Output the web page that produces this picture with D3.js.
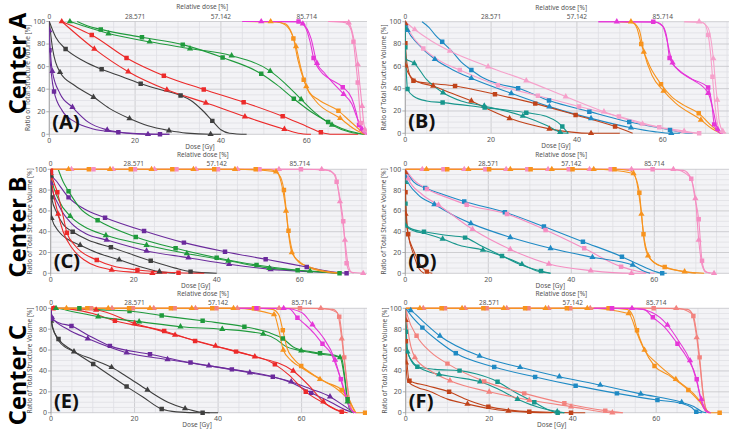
<!DOCTYPE html>
<html><head><meta charset="utf-8">
<script src="https://cdn.jsdelivr.net/npm/d3@7"></script>
<style>
html,body{margin:0;padding:0;background:#fff;}
svg{display:block;}
text{font-family:"Noto Sans","Open Sans",sans-serif;}
</style></head>
<body>
<svg id="chart" width="733" height="433"></svg>
<script>
// ---------- data (dose Gy, volume %, 1 = marker) ----------
const centers = ["Center A", "Center B", "Center C"];
const panelLabels = ["(A)", "(B)", "(C)", "(D)", "(E)", "(F)"];
const doseTicks = [0, 20, 40, 60];
const relTickLabels = ["0", "28.571", "57.142", "85.714"];
const volTicks = [0, 20, 40, 60, 80, 100];

const curvesA = [
 {k:"pur",s:"s",p:[[0,100],[0.05,74.5,1],[1.1,38,1],[3,21],[6,11],[10,5],[16.1,1.8,1],[22,0.4],[25.8,0,1],[28,0]]},
 {k:"pur",s:"t",p:[[0,100],[0.02,92,1],[0.7,56,1],[2.5,36],[5.4,24,1],[9,11],[13.5,3.9,1],[18,1],[23,0,1],[28,0]]},
 {k:"gry",s:"s",p:[[0,100],[1.5,86],[3.8,75.7,1],[8,65],[12.2,57.6,1],[17,51],[21.3,44.8,1],[26,39.5],[30.6,34.4,1],[33,30],[35.5,22],[38,11.9,1],[40,4],[42,1],[46,0]]},
 {k:"gry",s:"t",p:[[0,100],[0.8,75],[2.5,55,1],[6,43],[10.3,33,1],[14,23],[18.7,14,1],[23,7.5],[27.9,3.3,1],[32,1],[37.6,0,1],[40,0]]},
 {k:"red",s:"s",p:[[2.9,100],[6,95],[9.9,88,1],[18,67.7,1],[26.7,52,1],[36,39.8,1],[45.3,28.5,1],[54.4,16,1],[60,7],[63.3,1.8,1],[66,0],[72,0]]},
 {k:"red",s:"t",p:[[2.9,100,1],[10.5,75.7,1],[18.4,55.5,1],[27.4,39.5,1],[36.5,27.9,1],[45.6,15.7,1],[54.8,4.5,1],[58,1],[61,0]]},
 {k:"grn",s:"s",p:[[6.5,100],[9,96],[12,93,1],[21.6,86,1],[31.1,79.5,1],[40.4,68,1],[49.4,53.7,1],[53,44],[57,31.5,1],[61,20],[65,11,1],[69,4],[73.5,0]]},
 {k:"grn",s:"t",p:[[4.8,100,1],[8,96],[13.8,89.3,1],[23.4,82,1],[32.8,76,1],[42.5,69.7,1],[51.5,56,1],[55,45],[58.7,31,1],[62,19],[65.9,8.3,1],[70,2],[73.5,0]]},
 {k:"orn",s:"s",p:[[45.5,100],[53,99.5],[55,97],[56.9,85,1],[58,65],[59.3,48.4,1],[60.5,38],[63,30],[67.4,20.8,1],[70,12],[73.5,0]]},
 {k:"orn",s:"t",p:[[45.5,100],[51.6,100,1],[55,98],[57.5,78,1],[58.7,58],[59.9,42.4,1],[62,30],[67.8,14.2,1],[71,5],[73.5,0]]},
 {k:"mag",s:"s",p:[[45,100],[58.1,100,1],[59.5,96],[60.8,82],[61.6,67.7,1],[63,57],[65,50],[68.4,41.8,1],[70.5,32],[71.5,20],[72.2,8.3,1],[73,2],[74,0]]},
 {k:"mag",s:"t",p:[[45,100],[49.4,100,1],[58,99.5],[59.1,98,1],[61,85],[62.4,63,1],[64,55],[66,46],[68.6,35.6,1],[70.5,27],[71.7,15],[72.9,4.7,1],[74,0]]},
 {k:"pnk",s:"s",p:[[65,100],[69,99],[70.2,94],[70.9,82,1],[71.4,65],[71.9,46,1],[72.3,25],[72.6,10,1],[73.3,2],[74,0]]},
 {k:"pnk",s:"t",p:[[65,100],[69.5,100],[69.8,99,1],[70.8,88],[71.9,62,1],[72.5,40],[72.9,25,1],[73.3,10],[73.6,4,1],[74.5,0]]}
];
const curvesB = [
 {k:"blu",s:"s",p:[[3.9,100],[5.5,95],[7,88],[8.6,82,1],[11,73],[13,64],[15.4,56.7,1],[18,50],[22,44],[26.3,40.3,1],[33.5,29.3,1],[42.9,19.4,1],[52.2,10.1,1],[61.7,3,1],[64,1],[67,0]]},
 {k:"blu",s:"t",p:[[0,100],[0.02,97,1],[0.5,92.5,1],[3,80],[6.9,66.3,1],[11,57],[15.4,49.3,1],[24.7,35.8,1],[33.6,23.9,1],[43.3,13.4,1],[52.6,5,1],[58,1.5],[62,0,1],[64,0]]},
 {k:"lpk",s:"t",p:[[0,100],[2.2,93,1],[6,83],[10.4,73.7,1],[19.3,59.7,1],[28.2,47.2,1],[37.4,32.8,1],[46.3,19.4,1],[55.3,8.4,1],[65,2,1],[68,0]]},
 {k:"lpk",s:"s",p:[[0,100],[1.5,88],[4.2,76,1],[8,65],[12.7,56.7,1],[21.6,43,1],[30.9,33.7,1],[40.5,24,1],[49.8,15,1],[59.2,5.4,1],[64,1.5],[68.5,0,1]]},
 {k:"brn",s:"s",p:[[0,100],[0.02,80.6,1],[0.5,60],[1.9,47,1],[5,45],[11.6,42.4,1],[20.9,35,1],[30.3,26.6,1],[39.7,16.4,1],[48.9,6,1],[53,0]]},
 {k:"brn",s:"t",p:[[0,100],[0.02,98.5,1],[0.04,60.6,1],[1,52],[3,46],[6.5,42.4,1],[10,37],[15.4,29,1],[18,24],[24.3,13.4,1],[33.6,4,1],[43.3,0,1],[50,0]]},
 {k:"tea",s:"s",p:[[0,100],[0.02,77,1],[0.3,50],[0.5,39.7,1],[2,33],[5,29],[8.7,27.5,1],[18.5,23,1],[28.2,18.5,1],[33,15],[35.5,10],[36.6,6,1],[38,0]]},
 {k:"tea",s:"t",p:[[0,100],[0.02,94,1],[0.1,67],[2.1,62.7,1],[5,48],[8.8,36.4,1],[13,29],[18.4,24.5,1],[27.4,15.5,1],[33,7],[36.1,1,1],[38,0]]},
 {k:"orn",s:"s",p:[[50,100],[53,99],[54,94],[55,80,1],[57,60],[59.6,44,1],[62,33],[65,25],[68.4,18,1],[71,8],[73.5,0]]},
 {k:"orn",s:"t",p:[[50,100],[52.6,100,1],[54.5,93],[55.6,73,1],[57.5,52],[60.2,38,1],[63,27],[68.9,12,1],[71.5,4],[73.5,0]]},
 {k:"mag",s:"s",p:[[45,100],[57.8,100,1],[60,96],[61,85],[61.6,67.5,1],[63.5,57],[66,50],[70.6,41,1],[71.5,25],[72,8,1],[73,1],[74,0]]},
 {k:"mag",s:"t",p:[[45,100],[49.3,100,1],[58.5,99.5],[60,96],[62.3,63.3,1],[64,56],[67,48],[70.6,36,1],[71.8,20],[72.8,3.6,1],[74,0]]},
 {k:"lpk",s:"s",p:[[65,100],[69.5,99],[70.6,88,1],[71.2,70],[71.6,50.7,1],[72.2,25],[72.8,8],[73.5,1],[74.5,0]]},
 {k:"lpk",s:"t",p:[[65,100],[68.5,100,1],[70.5,95],[71.8,67,1],[72.3,45],[72.7,30,1],[73.2,10],[74,2,1],[74.8,0]]}
];
const curvesC = [
 {k:"pur",s:"s",p:[[0,100],[0.05,96,1],[1.5,88],[4.3,73,1],[8,62],[13.1,53.5,1],[22.5,40.7,1],[32.1,29.5,1],[42,20.8,1],[51.8,13.5,1],[61.7,6,1],[67,2],[71.3,0,1]]},
 {k:"pur",s:"t",p:[[0,100],[0.05,86.5,1],[2,65],[5,48],[8.5,38],[13.5,32,1],[23.1,21.5,1],[33.2,15,1],[43,8.7,1],[53,3.8,1],[63,1.5],[70,0]]},
 {k:"grn",s:"s",p:[[1.8,100],[3,88],[4.3,79,1],[7,63],[11.3,51,1],[20.5,35,1],[30.1,24,1],[40,15,1],[49.6,8,1],[59.5,3,1],[69.6,0,1]]},
 {k:"grn",s:"t",p:[[0,100],[0.05,94.5,1],[2,70],[4.7,55,1],[8,45],[13.3,36.5,1],[23.1,27,1],[32.8,19,1],[42.8,12,1],[52.7,5,1],[62.5,2.2,1],[70,0]]},
 {k:"gry",s:"s",p:[[0,100],[0.2,73,1],[1.5,58],[3,47],[5.3,40,1],[9,32],[14.5,25,1],[24.1,12,1],[30,5],[33.7,1.6,1],[40,0]]},
 {k:"gry",s:"t",p:[[0,100],[0.05,93.5,1],[0.2,53,1],[2,40],[4,33],[7.1,27,1],[11,20],[16.5,13,1],[21,7],[26.2,1.6,1],[30,0]]},
 {k:"red",s:"s",p:[[0,100],[0.05,98.7,1],[1.6,78,1],[3,55],[3.9,39,1],[6,26],[11.1,12.8,1],[15,7],[20.9,3.2,1],[30.8,0.5,1],[37,0]]},
 {k:"red",s:"t",p:[[0,100],[0.05,96,1],[1.8,57,1],[3,40],[5,25],[8,13],[14.7,3.2,1],[20,1],[24.5,0,1],[28,0]]},
 {k:"pnk",s:"s",p:[[0,100],[10.3,100,1],[20.3,100,1],[30.3,100,1],[40.3,100,1],[50.3,100,1],[60.3,100,1],[67,99],[68.3,95],[68.9,88,1],[69.8,70],[70.5,50,1],[71.3,9.6,1],[72,2],[73,0]]},
 {k:"pnk",s:"t",p:[[0,100],[5,100,1],[15,100,1],[25,100,1],[35,100,1],[45,100,1],[55,100,1],[65.3,100,1],[68.5,95],[69.7,69,1],[70.9,32,1],[71.6,10],[72.5,1],[75.3,0,1]]},
 {k:"orn",s:"s",p:[[0,100],[9.2,100,1],[19.3,100,1],[29.3,100,1],[39.4,100,1],[49.4,100,1],[53,99.5],[55,95],[56.2,80,1],[57.3,41,1],[58.5,18],[60,10],[61.7,7],[65,3],[70,0]]},
 {k:"orn",s:"t",p:[[0,100],[4.3,100,1],[14.3,100,1],[24.3,100,1],[34.4,100,1],[44.4,100,1],[54.3,97.8,1],[55.5,88],[56.7,60,1],[57.4,35],[58.1,20,1],[60,11],[62,6],[66,1.5],[70,0]]}
];
const curvesD = [
 {k:"blu",s:"s",p:[[0,100],[2,88],[4.8,82,1],[9,76],[14.2,69,1],[24,58.7,1],[33.4,44.9,1],[42.8,30.4,1],[52.2,16,1],[56,9],[60,2],[61.9,0,1],[63,0]]},
 {k:"pnk",s:"s",p:[[0,100],[2,90],[5.2,81,1],[10,73],[14.8,66,1],[24.5,57,1],[33.8,41.7,1],[43.1,24,1],[52,6.4,1],[56,2],[60,0]]},
 {k:"blu",s:"t",p:[[0,100],[0.05,93,1],[3,76],[7,66.3,1],[11,57],[15.8,48,1],[25.3,34.6,1],[35,24,1],[45.1,15.4,1],[54.8,8,1],[57,3],[59,0]]},
 {k:"pnk",s:"t",p:[[0,100],[0.7,91,1],[4,76],[8,65.7,1],[16.2,42.3,1],[25.3,23,1],[34.6,9,1],[44.7,2.6,1],[54.5,0,1],[58,0]]},
 {k:"tea",s:"s",p:[[0,100],[0.05,67,1],[0.5,45],[2,42],[4.5,40,1],[9,37],[14.4,34.3,1],[18,27],[23.3,16.7,1],[28,8],[32.7,2.2,1],[35,0]]},
 {k:"tea",s:"t",p:[[0,100],[0.05,87.5,1],[0.1,45.5,1],[2,41],[5,38],[9,33,1],[13,27],[18.7,22.4,1],[23,17],[28.1,8.7,1],[32,2],[35,0]]},
 {k:"brn",s:"s",p:[[0,100],[0.05,78,1],[0.7,37.5,1],[2,22],[3.5,9],[5.2,1.6,1],[6.5,0]]},
 {k:"brn",s:"t",p:[[0,100],[0.02,97,1],[0.05,57,1],[0.8,35],[2,18],[3.2,5],[4.5,0]]},
 {k:"pnk",s:"s",p:[[0,100],[9.2,100,1],[19.3,100,1],[29.4,100,1],[39.4,100,1],[49.5,100,1],[59.6,100,1],[67,99],[68.9,91,1],[69.8,72],[70.7,52,1],[71.5,12,1],[72.3,2],[73.5,0]]},
 {k:"pnk",s:"t",p:[[0,100],[4.1,100,1],[14.2,100,1],[24.3,100,1],[34.4,100,1],[44.4,100,1],[54.5,100,1],[64.6,100,1],[68.5,93],[69.9,72,1],[70.7,32,1],[71.5,8],[72.5,1],[74.4,0,1]]},
 {k:"orn",s:"s",p:[[0,100],[10.1,100,1],[20.2,100,1],[30.2,100,1],[40.3,100,1],[50.4,100,1],[54,99],[55.5,92],[56.4,77.5,1],[57.4,37.5,1],[58.5,18],[60,10],[62.5,6,1],[66,2.5],[70,0]]},
 {k:"orn",s:"t",p:[[0,100],[5.1,100,1],[15.2,100,1],[25.3,100,1],[35.3,100,1],[45.4,100,1],[55,96,1],[56.9,57,1],[57.6,30],[58.5,17,1],[61,8],[67.3,1.6,1],[72,0]]}
];
const curvesE = [
 {k:"gry",s:"s",p:[[0,100],[0.3,82],[1.8,70.6,1],[5,60],[10.1,46.6,1],[18.1,25,1],[22,15],[26.5,3.5,1],[30,0.8],[36.3,0,1],[40,0]]},
 {k:"gry",s:"t",p:[[0,100],[0.05,88,1],[2,68],[5.5,58.5,1],[10,51],[14.5,43.5,1],[18,35],[23.1,21.7,1],[28,10],[32.1,4,1],[36,0.5],[38,0]]},
 {k:"pur",s:"s",p:[[0,100],[0.2,90,1],[2,86],[4.9,83,1],[9,74],[14.1,64,1],[23.7,56,1],[33.4,48,1],[43.3,41.5,1],[53.1,34.5,1],[58,28],[62.3,19,1],[67,10],[71,2],[72.5,0]]},
 {k:"pur",s:"t",p:[[0,100],[0.2,91.4,1],[4,80],[8.8,71,1],[18.1,57.5,1],[27.9,51,1],[37.8,45,1],[47.6,38.3,1],[57.5,29.7,1],[62,23],[66.8,15.3,1],[70,7],[72.5,0]]},
 {k:"red",s:"s",p:[[0.6,100,1],[5,99],[10,95],[15.3,88,1],[27.1,78.3,1],[34.5,68.7,1],[44.3,58.5,1],[53.6,46.3,1],[57,36],[61,20,1],[65,10],[69.6,1,1],[71,0]]},
 {k:"red",s:"t",p:[[0.7,100,1],[10.8,98.4,1],[20,85.6,1],[29.7,74.4,1],[39.4,63.9,1],[48.8,53.7,1],[58,40,1],[62,25],[65.2,10.5,1],[68,3],[70,0]]},
 {k:"grn",s:"s",p:[[1.5,100],[6.8,100,1],[12,98.5],[18.8,97.4,1],[26.5,93,1],[36.3,88,1],[46.3,82.4,1],[52,77],[55.5,71,1],[58,63],[62,58.5],[64.4,57,1],[68,55],[69.6,52],[70.3,35],[71,12.8,1],[71.7,2],[72.5,0]]},
 {k:"grn",s:"t",p:[[0,100],[1.2,100,1],[5,97],[11.3,92,1],[21.1,87.2,1],[31,82.4,1],[41,80,1],[50.8,75.4,1],[54,70],[56,64],[59.9,59.4,1],[64,56.5],[69.2,53,1],[70.2,35],[71,10.5,1],[72,0]]},
 {k:"sal",s:"s",p:[[0,100],[9.6,100,1],[19.6,100,1],[29.6,100,1],[39.6,100,1],[49.6,100,1],[59.6,100,1],[67.5,99],[69,92,1],[70.2,53,1],[71,25],[71.8,5],[72.5,0]]},
 {k:"sal",s:"t",p:[[0,100],[14.6,100,1],[24.6,100,1],[34.6,100,1],[44.6,100,1],[54.6,100,1],[64.6,100,1],[68.5,96],[69.6,71,1],[70.5,40],[71.3,15],[72,3],[73,0]]},
 {k:"orn",s:"s",p:[[0,100],[8.7,100,1],[18.7,100,1],[28.7,100,1],[38.6,100,1],[48.6,100,1],[53,99],[54.5,94],[55.5,79,1],[56.5,62],[58,52],[59.9,44.7,1],[63,36],[66,29],[69.6,21.7,1],[71.5,12],[73,0],[75.2,0,1]]},
 {k:"orn",s:"t",p:[[0,100],[3.7,100,1],[13.7,100,1],[23.7,100,1],[33.7,100,1],[43.7,100,1],[53.4,94,1],[54.5,80],[55.6,60,1],[57.5,50],[60,43],[64.4,32,1],[68,24],[71,13],[73,0]]},
 {k:"mag",s:"s",p:[[45,100],[49.2,100,1],[57,99.5],[59,91,1],[61,84],[63,76],[65,66,1],[67,57],[69.4,32,1],[70.5,18],[71.5,5],[72.5,0]]},
 {k:"mag",s:"t",p:[[45,100],[55.7,100,1],[60,96],[62.6,84.3,1],[65,73],[68,50.5,1],[69.5,30],[70.8,12],[72,2],[73,0]]}
];
const curvesF = [
 {k:"brn",s:"s",p:[[0,100],[0.05,68.4,1],[0.9,30.7,1],[5,26],[10.4,20,1],[15,12],[19.8,5.8,1],[25,2.5],[29.6,1,1],[39.6,0,1],[43,0]]},
 {k:"brn",s:"t",p:[[0,100],[0.02,88.5,1],[0.05,48,1],[0.5,30],[3,24],[5.4,21],[10,13],[14.8,8.3,1],[20,4],[24.6,1.6,1],[30,0.3],[35,0]]},
 {k:"tea",s:"s",p:[[0,100],[0.05,77.6,1],[0.7,55],[2.8,44,1],[7,41.5],[12.9,40.3,1],[17,37],[22,29.7,1],[26,20],[30.8,10,1],[34,3],[36.4,0,1],[38,0]]},
 {k:"tea",s:"t",p:[[0,100],[0.4,58.5,1],[2,47],[5,40],[8,36.7,1],[12,34],[17.8,29.7,1],[22,23],[26.8,13,1],[32,5],[36.3,1,1],[38,0]]},
 {k:"sal",s:"s",p:[[0,100],[0.5,92],[2.6,73.8,1],[6,58],[10,47,1],[18.8,30,1],[28.4,18.5,1],[38,9,1],[47.8,2,1],[52,0]]},
 {k:"sal",s:"t",p:[[0,100],[0.5,80],[2.2,53,1],[6,40],[10.6,30.7,1],[20,20,1],[29.6,12.1,1],[39.6,5.8,1],[49.5,0,1],[52,0]]},
 {k:"blu",s:"t",p:[[0,100],[1.2,98,1],[4,88],[8.2,73.5,1],[17.7,54.3,1],[27.4,43.5,1],[36.8,34.5,1],[46.6,26.5,1],[56.3,18,1],[66.1,10,1],[69,6],[71,1],[72,0]]},
 {k:"blu",s:"s",p:[[0,100],[1.5,92],[4,81.5,1],[8,68],[12,56.9,1],[21.2,43.8,1],[31,34.2,1],[40.7,25.9,1],[50.6,18.5,1],[60.3,12.1,1],[66,9],[68.5,5],[69.6,1,1],[71,0]]},
 {k:"sal",s:"s",p:[[0,100],[9.4,100,1],[19.4,100,1],[29.4,100,1],[39.4,100,1],[49.4,100,1],[59.4,100,1],[67.5,99],[68.9,92.7,1],[70.4,53,1],[71.2,20],[72,3],[73,0]]},
 {k:"sal",s:"t",p:[[0,100],[4.2,100,1],[14.2,100,1],[24.2,100,1],[34.2,100,1],[44.2,100,1],[64.8,100,1],[68.5,95],[69.7,72,1],[70.5,45],[71.3,15],[72.3,1],[73,0]]},
 {k:"orn",s:"s",p:[[0,100],[8.6,100,1],[18.6,100,1],[28.6,100,1],[38.6,100,1],[48.6,100,1],[53,99],[54.5,92],[55.4,79,1],[57,62],[59.6,44.7,1],[63,36],[67.7,21.7,1],[70.5,10],[72.5,0],[75.2,0,1]]},
 {k:"orn",s:"t",p:[[0,100],[3.4,100,1],[13.5,100,1],[23.5,100,1],[33.5,100,1],[43.5,100,1],[53.4,95,1],[55.5,75],[57.2,60,1],[60,48],[64.7,32,1],[69,18],[72.5,0]]},
 {k:"mag",s:"s",p:[[45,100],[49.4,100,1],[57,99],[59.2,91.4,1],[62,82],[65.1,66,1],[67.5,52],[69.7,32,1],[70.7,12],[72,1],[73,0]]},
 {k:"mag",s:"t",p:[[45,100],[54.2,100,1],[59,96],[62.7,84,1],[65.5,68],[68.1,50,1],[69.5,33],[70.8,13,1],[72,2],[73,0]]}
];

// ---------- styles ----------
const palette = {pur:"#6b2a9c", gry:"#3f3f3f", red:"#ec2a2a", grn:"#1f9a3c", orn:"#f7931e",
  mag:"#e536d8", pnk:"#f58ec2", lpk:"#f6a1cb", blu:"#1f8ac4", tea:"#17968c", brn:"#c0431a", sal:"#f2837f"};

const layout = [
  {data:curvesA, x0:49.3, ppg:4.29, top:21.5, bot:134.3, right:367},
  {data:curvesB, x0:405.3, ppg:4.29, top:21.7, bot:133.3, right:729},
  {data:curvesC, x0:50.7, ppg:4.15, top:169.3, bot:273.3, right:367},
  {data:curvesD, x0:405.3, ppg:4.15, top:169.3, bot:273.3, right:729},
  {data:curvesE, x0:51, ppg:4.177, top:308.3, bot:412.7, right:367},
  {data:curvesF, x0:405.7, ppg:4.175, top:308.3, bot:412.7, right:729}
];
const centerY = [63.5, 227, 375];

const svg = d3.select("#chart");

layout.forEach((L, i) => {
  const x = d3.scaleLinear().domain([0, (L.right - L.x0) / L.ppg]).range([L.x0, L.right]);
  const y = d3.scaleLinear().domain([0, 100]).range([L.bot, L.top]);
  const g = svg.append("g");
  const cid = "clip" + i;
  g.append("clipPath").attr("id", cid).append("rect")
    .attr("x", L.x0).attr("y", L.top - 4).attr("width", L.right - L.x0).attr("height", L.bot - L.top + 8);
  g.append("rect").attr("x", L.x0).attr("y", L.top).attr("width", L.right - L.x0).attr("height", L.bot - L.top)
    .attr("fill", "#f3f3f6");
  // grid
  const xmax = x.domain()[1];
  const xm = d3.range(0, xmax, 5), ym = d3.range(0, 101, 5);
  g.selectAll(".vx").data(xm).join("line")
    .attr("x1", d => x(d)).attr("x2", d => x(d)).attr("y1", L.top).attr("y2", L.bot)
    .attr("stroke", d => d % 20 === 0 ? "#c4c4c8" : "#e0e0e4").attr("stroke-width", 0.8);
  g.selectAll(".hy").data(ym).join("line")
    .attr("x1", L.x0).attr("x2", L.right).attr("y1", d => y(d)).attr("y2", d => y(d))
    .attr("stroke", d => d % 20 === 0 ? "#c4c4c8" : "#e0e0e4").attr("stroke-width", 0.8);
  g.append("line").attr("x1", L.x0).attr("x2", L.x0).attr("y1", L.top).attr("y2", L.bot + 3).attr("stroke", "#9a9a9a").attr("stroke-width", 0.8);

  // axes
  const ax = g.append("g").attr("font-size", 7).attr("fill", "#555");
  ax.selectAll(".yl").data(volTicks).join("text")
    .attr("x", L.x0 - 4).attr("y", d => y(d) + 2.4).attr("text-anchor", "end").text(d => d);
  ax.selectAll(".yt").data(volTicks).join("line")
    .attr("x1", L.x0 - 3).attr("x2", L.x0).attr("y1", d => y(d)).attr("y2", d => y(d)).attr("stroke", "#9a9a9a").attr("stroke-width", 0.8);
  ax.selectAll(".xl").data(doseTicks).join("text")
    .attr("x", d => x(d)).attr("y", L.bot + 8.5).attr("text-anchor", "middle").text(d => d);
  ax.selectAll(".tl").data(doseTicks).join("text")
    .attr("x", d => x(d)).attr("y", L.top - 3).attr("font-size", 6.5).attr("text-anchor", "middle").text((d, j) => relTickLabels[j]);
  const mid = (L.x0 + L.right) / 2 - 6;
  ax.append("text").attr("x", mid).attr("y", L.top - 12.2).attr("font-size", 6.5).attr("text-anchor", "middle").text("Relative dose [%]");
  ax.append("text").attr("x", x(40) - 21).attr("y", L.bot + 14.5).attr("font-size", 6.5).attr("text-anchor", "middle").text("Dose [Gy]");
  ax.append("text").attr("transform", `translate(${L.x0 - 19},${(L.top + L.bot) / 2}) rotate(-90)`)
    .attr("text-anchor", "middle").attr("font-size", 6.5).text("Ratio of Total Structure Volume [%]");

  // curves
  const line = d3.line().x(d => x(d[0])).y(d => y(d[1])).curve(d3.curveMonotoneX);
  const cg = g.append("g").attr("clip-path", `url(#${cid})`);
  L.data.forEach(c => {
    cg.append("path").attr("d", line(c.p)).attr("fill", "none")
      .attr("stroke", palette[c.k]).attr("stroke-width", 1.1);
  });
  L.data.forEach(c => {
    const sym = d3.symbol().type(c.s === "s" ? d3.symbolSquare : d3.symbolTriangle).size(c.s === "s" ? 20 : 17);
    cg.selectAll(null).data(c.p.filter(d => d[2])).join("path")
      .attr("transform", d => `translate(${x(d[0])},${y(d[1])})`)
      .attr("d", sym).attr("fill", palette[c.k]);
  });

  // panel label
  g.append("text").attr("x", L.x0 + 3).attr("y", L.bot - 5)
    .attr("font-family", "'Liberation Sans', Arial, sans-serif").attr("font-weight", "bold")
    .attr("font-size", 20).attr("fill", "#111").text(panelLabels[i]);
});

centers.forEach((t, i) => {
  svg.append("text").attr("transform", `translate(26,${centerY[i]}) rotate(-90)`)
    .attr("text-anchor", "middle").attr("font-family", "'Open Sans', sans-serif")
    .attr("font-weight", "bold").attr("font-size", 23.5).attr("fill", "#000").text(t);
});
</script>
</body></html>
